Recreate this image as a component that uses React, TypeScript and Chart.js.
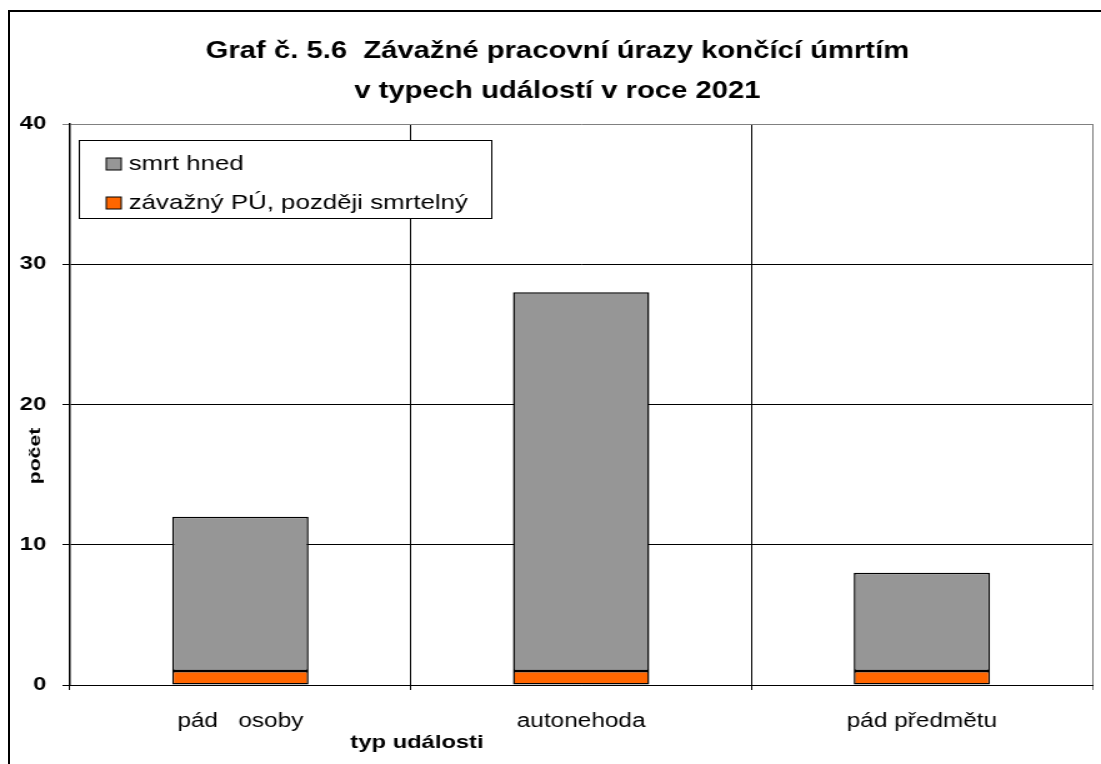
import React, { useEffect, useRef } from 'react';
import { Chart, registerables } from 'chart.js';

Chart.register(...registerables);

// ---- data ----
const categories = ['pád   osoby', 'autonehoda', 'pád předmětu'];
const smrtHned = [11, 27, 7];
const pozdejiSmrtelny = [1, 1, 1];
const seriesLabels = ['závažný PÚ, později smrtelný', 'smrt hned'];
const yMin = 0;
const yMax = 40;
const yStep = 10;
const titleLines = ['Graf č. 5.6  Závažné pracovní úrazy končící úmrtím', 'v typech událostí v roce 2021'];
const xTitle = 'typ události';
const yTitle = 'počet';

// ---- presentation ----
const SX = 1.25; // horizontal text/graphics stretch of the reference
const CW = Math.round(1101 / SX);
const CH = 764;
const FONT = '"Liberation Sans", Arial, sans-serif';
const GRAY = '#969696';
const ORANGE = '#FF6600';

const decor = {
  id: 'decor',
  afterDraw(chart: any) {
    const ctx = chart.ctx as CanvasRenderingContext2D;
    ctx.save();
    ctx.fillStyle = '#000';
    ctx.strokeStyle = '#000';

    // title
    ctx.textAlign = 'center';
    ctx.textBaseline = 'alphabetic';
    ctx.font = `bold 23.4px ${FONT}`;
    ctx.fillText(titleLines[0], 446, 57.5);
    ctx.fillText(titleLines[1], 446, 97.5);

    // x axis title
    const xs = chart.scales.x;
    const bx = (xs.getPixelForValue(0) + xs.getPixelForValue(1)) / 2 + 5;
    ctx.font = `bold 19px ${FONT}`;
    ctx.fillText(xTitle, bx, 748);

    // y axis title (rotated, widened along its own direction)
    ctx.save();
    ctx.translate(32.3, 456);
    ctx.scale(1 / SX, 1);
    ctx.rotate(-Math.PI / 2);
    ctx.scale(SX, 1);
    ctx.font = `bold 17px ${FONT}`;
    ctx.textAlign = 'center';
    ctx.textBaseline = 'alphabetic';
    ctx.fillText(yTitle, 0, 0);
    ctx.restore();

    // legend
    ctx.lineWidth = 1;
    ctx.fillStyle = '#fff';
    ctx.fillRect(63.5, 140.5, 330, 78);
    ctx.strokeRect(63.5, 140.5, 330, 78);
    const ds = chart.data.datasets.slice().reverse();
    ctx.font = `20.7px ${FONT}`;
    ctx.textAlign = 'left';
    ds.forEach((d: any, i: number) => {
      const base = 169.5 + i * 39;
      ctx.fillStyle = d.backgroundColor;
      ctx.fillRect(85, base - 11.5, 12, 12);
      ctx.strokeRect(85, base - 11.5, 12, 12);
      ctx.fillStyle = '#000';
      ctx.fillText(d.label, 103, base);
    });
    ctx.restore();
  },
};

export default function App() {
  const ref = useRef<HTMLCanvasElement | null>(null);

  useEffect(() => {
    if (!ref.current) return;
    const chart = new Chart(ref.current, {
      type: 'bar',
      data: {
        labels: categories,
        datasets: [
          {
            label: seriesLabels[0],
            data: pozdejiSmrtelny,
            backgroundColor: ORANGE,
            borderColor: '#000',
            borderWidth: 1.5,
            borderSkipped: false,
            barPercentage: 0.4,
            categoryPercentage: 1,
          },
          {
            label: seriesLabels[1],
            data: smrtHned,
            backgroundColor: GRAY,
            borderColor: '#000',
            borderWidth: 1.5,
            borderSkipped: false,
            barPercentage: 0.4,
            categoryPercentage: 1,
          },
        ],
      },
      options: {
        responsive: false,
        animation: false,
        devicePixelRatio: 1,
        layout: { padding: { top: 124, right: 7, left: 0, bottom: 0 } },
        plugins: {
          legend: { display: false },
          title: { display: false },
          tooltip: { enabled: false },
        },
        scales: {
          x: {
            stacked: true,
            offset: true,
            grid: {
              offset: true,
              color: (c: any) => (c.index === undefined ? '#808080' : '#000'),
              lineWidth: 1,
              tickLength: 5,
            },
            border: { color: '#000', width: 1 },
            ticks: {
              color: '#000',
              font: { family: FONT, size: 19.5 },
              padding: 20,
              maxRotation: 0,
              autoSkip: false,
            },
            afterFit: (s: any) => {
              s.height = 79;
            },
          },
          y: {
            stacked: true,
            min: yMin,
            max: yMax,
            ticks: {
              stepSize: yStep,
              color: '#000',
              font: { family: FONT, size: 19, weight: 'bold' },
              padding: 13,
            },
            grid: {
              color: (c: any) => (c.tick && c.tick.value === yMax ? '#808080' : '#000'),
              lineWidth: 1,
              tickLength: 6,
            },
            border: { color: '#000', width: 1.5 },
            afterFit: (s: any) => {
              s.width = 56;
            },
          },
        },
      } as any,
      plugins: [decor],
    });
    return () => chart.destroy();
  }, []);

  return (
    <div
      style={{
        position: 'absolute',
        left: 0,
        top: 0,
        width: 1101,
        height: 764,
        overflow: 'hidden',
        background: '#fff',
      }}
    >
      <div
        style={{
          position: 'absolute',
          left: 8,
          top: 10,
          width: 1200,
          height: 900,
          border: '2px solid #000',
          boxSizing: 'border-box',
        }}
      />
      <canvas
        ref={ref}
        width={CW}
        height={CH}
        style={{ position: 'absolute', left: 0, top: 0, width: '1101px', height: '764px' }}
      />
    </div>
  );
}
